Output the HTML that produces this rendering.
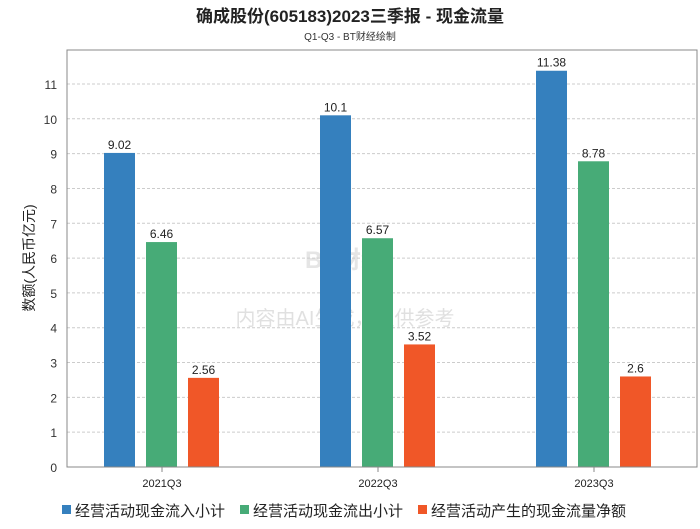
<!DOCTYPE html>
<html><head><meta charset="utf-8"><style>
body{margin:0;background:#fff;width:700px;height:524px;overflow:hidden;font-family:"Liberation Sans","Noto Sans CJK SC",sans-serif}
</style></head><body>
<svg width="700" height="524" id="chart" font-family="Liberation Sans, Noto Sans CJK SC, sans-serif">
<text x="350" y="22" text-anchor="middle" font-size="17" font-weight="bold" fill="#222">确成股份(605183)2023三季报 - 现金流量</text>
<text x="350" y="40" text-anchor="middle" font-size="10" fill="#333">Q1-Q3 - BT财经绘制</text>
<g id="grid"></g>
<text x="345" y="268" text-anchor="middle" font-size="24" font-weight="bold" fill="#ccc" opacity="0.5">BT财经</text>
<text x="345" y="325" text-anchor="middle" font-size="20" fill="#ccc" opacity="0.6">内容由AI生成，仅供参考</text>
<g id="bars"></g>
<rect x="67" y="50" width="630" height="417" fill="none" stroke="#888"/>
<text transform="translate(34,258) rotate(-90)" text-anchor="middle" font-size="14" fill="#222">数额(人民币亿元)</text>
<g id="legend"></g>
</svg>
<script>
const categories=["2021Q3","2022Q3","2023Q3"];
const inflow=[9.02,10.1,11.38];
const outflow=[6.46,6.57,8.78];
const net=[2.56,3.52,2.6];
const yTicks=[0,1,2,3,4,5,6,7,8,9,10,11];
const seriesNames=["经营活动现金流入小计","经营活动现金流出小计","经营活动产生的现金流量净额"];
const colors=["#3580be","#47ab77","#f05728"];
const NS="http://www.w3.org/2000/svg";
function y(v){return 467-v*34.82;}
function xc(i){return 162+i*216;}
function mk(t,a,p){const e=document.createElementNS(NS,t);for(const k in a)e.setAttribute(k,a[k]);(p||document.getElementById('chart')).appendChild(e);return e;}
const grid=document.getElementById('grid');
yTicks.forEach(t=>{
 if(t>0){const l=mk('line',{x1:67,x2:697,y1:y(t),y2:y(t),stroke:'#ccc','stroke-dasharray':'3,2'},grid);
 
 }
 const tx=mk('text',{x:57,y:y(t)+5,'text-anchor':'end','font-size':12,fill:'#333'},grid);tx.textContent=t;
 
 
});
const bars=document.getElementById('bars');
const series=[inflow,outflow,net];
categories.forEach((c,i)=>{
 series.forEach((s,j)=>{
  const x=xc(i)-58+j*42;
  const r=mk('rect',{x:x,y:y(s[i]),width:31,height:467-y(s[i]),fill:colors[j]},bars);
  
  
  const t=mk('text',{x:x+15.5,y:y(s[i])-4,'text-anchor':'middle','font-size':12,fill:'#222'},bars);t.textContent=s[i];
  
  
 });
 const tk=mk('line',{x1:xc(i),x2:xc(i),y1:467,y2:472,stroke:'#888'},bars);
 
 
 const lb=mk('text',{x:xc(i),y:487,'text-anchor':'middle','font-size':11,fill:'#222'},bars);lb.textContent=c;
 
 
});
const lg=document.getElementById('legend');
const lx=[62,240,418];
seriesNames.forEach((n,j)=>{
 const r=mk('rect',{x:lx[j],y:505,width:9,height:9,fill:colors[j]},lg);
 
 
 const t=mk('text',{x:lx[j]+13,y:516,'font-size':15,fill:'#222'},lg);t.textContent=n;
 
 
});
</script>
</body></html>
